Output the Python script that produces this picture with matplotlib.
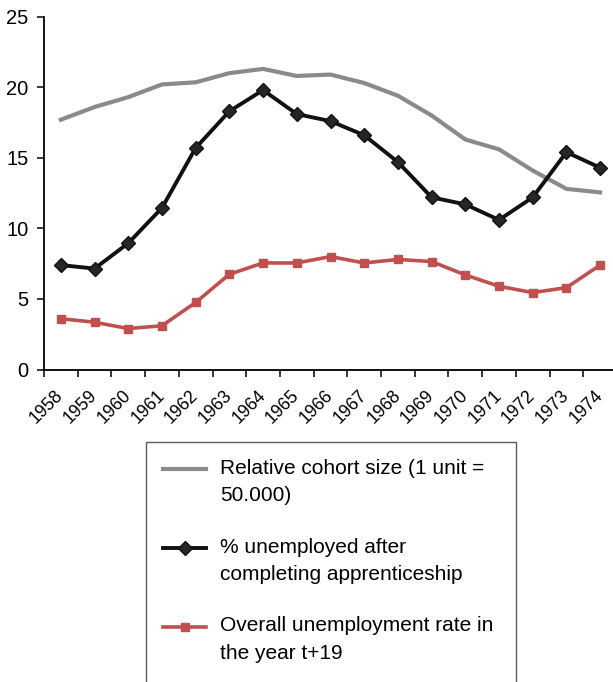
import numpy as np
import matplotlib
matplotlib.use("Agg")
import matplotlib.pyplot as plt
from matplotlib.legend_handler import HandlerLine2D
from matplotlib.lines import Line2D
from matplotlib.transforms import ScaledTranslation

plt.rcParams['font.family'] = ['Liberation Sans', 'DejaVu Sans']

years = [str(y) for y in range(1958, 1975)]

# relative cohort size (1 unit = 50.000)
cohort = [17.7, 18.6, 19.3, 20.2, 20.35, 21.0, 21.3, 20.8, 20.9, 20.3,
          19.4, 18.0, 16.3, 15.6, 14.1, 12.8, 12.55]
# % unemployed after completing apprenticeship
appr = [7.4, 7.15, 8.95, 11.45, 15.7, 18.3, 19.8, 18.1, 17.6, 16.6,
        14.7, 12.2, 11.7, 10.6, 12.2, 15.4, 14.3]
# overall unemployment rate in year t+19
overall = [3.6, 3.35, 2.9, 3.1, 4.75, 6.75, 7.55, 7.55, 8.0, 7.55,
           7.8, 7.65, 6.7, 5.9, 5.45, 5.8, 7.4]

labels = ["Relative cohort size (1 unit =\n50.000)",
          "% unemployed after\ncompleting apprenticeship",
          "Overall unemployment rate in\nthe year t+19"]


class FirstLineHandler(HandlerLine2D):
    """ put the legend line next to the first text line, not the middle """
    def __init__(self, shift, **kw):
        super().__init__(**kw)
        self.shift = shift

    def create_artists(self, legend, orig_handle, xdescent, ydescent,
                       width, height, fontsize, trans):
        arts = super().create_artists(legend, orig_handle, xdescent, ydescent,
                                      width, height, fontsize, trans)
        for a in arts:
            a.set_ydata(np.asarray(a.get_ydata(), float) + self.shift)
        return arts


W, H = 613, 682
fig = plt.figure(figsize=(W/100, H/100), dpi=100)
ax = fig.add_axes([44/W, 1 - 369.5/H, (617-44)/W, (369.5-16.7)/H])

x = np.arange(len(years))
l1, = ax.plot(x, cohort, color='#8a8a8a', lw=3.0, solid_joinstyle='round')
l2, = ax.plot(x, appr, color='#111111', lw=2.8, marker='D', ms=7.5,
              mfc='#262626', mec='#111111', mew=1.0)
l3, = ax.plot(x, overall, color='#c0504d', lw=2.6, marker='s', ms=5.5,
              mfc='#c0504d', mec='#c0504d')

ax.set_xlim(-0.5, len(years) - 0.5)
ax.set_ylim(0, 25)
ax.set_yticks(range(0, 26, 5))
ax.set_xticks(x)
ax.set_xticklabels(years, rotation=45, ha='right', va='center',
                   rotation_mode='anchor', fontsize=12.8)
shift_right = ScaledTranslation(4/100, 0, fig.dpi_scale_trans)
for lab in ax.get_xticklabels():
    lab.set_transform(lab.get_transform() + shift_right)
ax.set_xticks(np.arange(-0.5, len(years)), minor=True)
ax.tick_params(axis='x', which='major', length=0, pad=17)
ax.tick_params(axis='x', which='minor', length=5, width=1.1, direction='out')
ax.tick_params(axis='y', length=5, width=1.1, direction='out', labelsize=14.5, pad=6)
for s in ['top', 'right']:
    ax.spines[s].set_visible(False)
for s in ['left', 'bottom']:
    ax.spines[s].set_linewidth(1.3)

# empty spacer row: the legend box of the original runs past the bottom edge
spacer = Line2D([], [], visible=False)

sh = 9.4
leg = fig.legend([l1, l2, l3, spacer], labels + [""], loc='upper left',
                 bbox_to_anchor=(146/W, 1 - 442/H, (516-146)/W, 0),
                 mode='expand', borderaxespad=0, fontsize=15,
                 frameon=True, fancybox=False, edgecolor='#333333',
                 handlelength=2.1, handletextpad=0.67, borderpad=0.8,
                 labelspacing=1.55,
                 handler_map={l1: FirstLineHandler(sh), l2: FirstLineHandler(sh),
                              l3: FirstLineHandler(sh)})
leg.get_frame().set_linewidth(1.0)
for t in leg.get_texts():
    t.set_linespacing(1.57)

fig.savefig("out.png", dpi=100)
